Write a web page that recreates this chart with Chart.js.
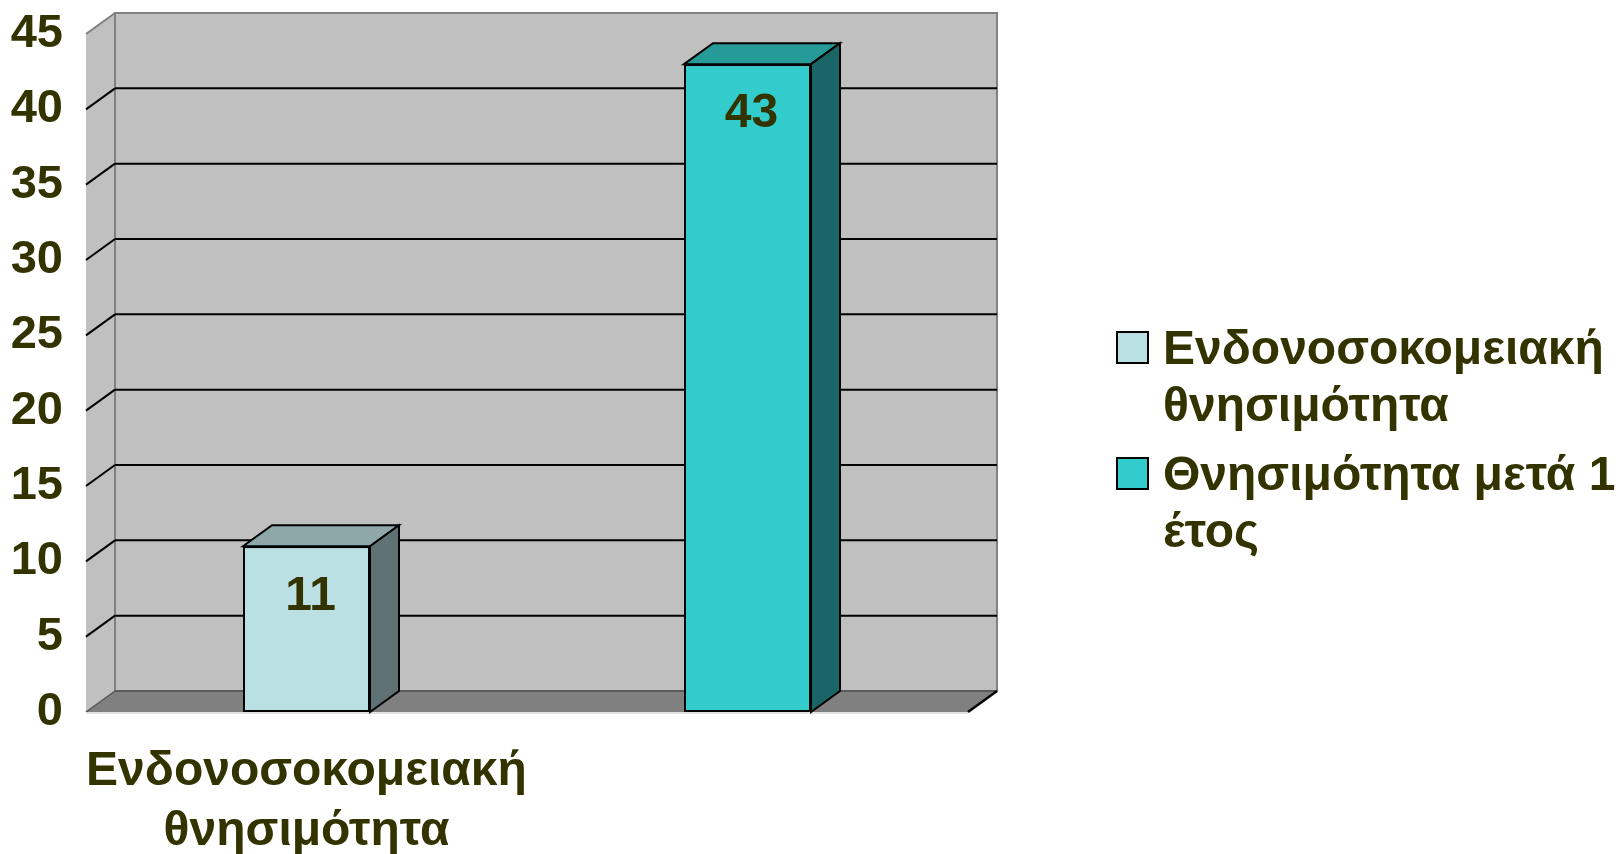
<!DOCTYPE html>
<html>
<head>
<meta charset="utf-8">
<script src="https://cdn.jsdelivr.net/npm/chart.js@4"></script>
<style>
  html, body { margin: 0; background: #fff; }
  canvas { display: block; }
</style>
</head>
<body>
<canvas id="mortalityChart" width="1621" height="854"></canvas>
<script>
// Θνησιμότητα (%)
const categories = ['Ενδονοσοκομειακή θνησιμότητα', 'Θνησιμότητα μετά 1 έτος'];
const values = [11, 43];
const yMin = 0, yMax = 45, yStep = 5;

// μπροστινή / πάνω / πλαϊνή όψη κάθε στήλης
const frontColors = ['#bbe0e3', '#33cccc'];
const topColors = ['#8ea8aa', '#269999'];
const sideColors = ['#5e7273', '#1a6666'];

const textColor = '#333300';
const fontFamily = '"Liberation Sans", Arial, sans-serif';
const labelFont = `bold 48px ${fontFamily}`;
const depthX = 29, depthY = -21;

const measureCtx = document.createElement('canvas').getContext('2d');
function wrapText(text, font, maxWidth) {
    measureCtx.font = font;
    const words = text.split(' ');
    const lines = [];
    let line = '';
    words.forEach(w => {
        const test = line ? line + ' ' + w : w;
        if (line && measureCtx.measureText(test).width > maxWidth) {
            lines.push(line);
            line = w;
        } else {
            line = test;
        }
    });
    if (line) lines.push(line);
    return lines;
}

function line(ctx, x1, y1, x2, y2, color, width) {
    ctx.beginPath();
    ctx.moveTo(x1, y1);
    ctx.lineTo(x2, y2);
    ctx.strokeStyle = color;
    ctx.lineWidth = width;
    ctx.stroke();
}

function poly(ctx, pts, fill, stroke) {
    ctx.beginPath();
    ctx.moveTo(pts[0][0], pts[0][1]);
    pts.slice(1).forEach(p => ctx.lineTo(p[0], p[1]));
    ctx.closePath();
    ctx.fillStyle = fill;
    ctx.fill();
    if (stroke) {
        ctx.strokeStyle = stroke;
        ctx.lineWidth = 2;
        ctx.stroke();
    }
}

// τοίχοι, δάπεδο και γραμμές πλέγματος σε στυλ 3Δ
const box3d = {
    id: 'box3d',
    beforeDatasetsDraw(chart) {
        const { ctx, chartArea: a, scales: { y } } = chart;
        const top = y.getPixelForValue(yMax), bottom = y.getPixelForValue(yMin);
        ctx.save();
        // πίσω τοίχος
        ctx.fillStyle = '#c0c0c0';
        ctx.fillRect(a.left + depthX, top + depthY, a.right - a.left, bottom - top);
        ctx.strokeStyle = '#808080';
        ctx.lineWidth = 2;
        ctx.strokeRect(a.left + depthX, top + depthY, a.right - a.left, bottom - top);
        // πλαϊνός τοίχος
        poly(ctx, [[a.left, top], [a.left + depthX, top + depthY],
                   [a.left + depthX, bottom + depthY], [a.left, bottom]], '#c0c0c0');
        line(ctx, a.left, top, a.left + depthX, top + depthY, '#808080', 2);
        line(ctx, a.left + depthX, top + depthY, a.left + depthX, bottom + depthY, '#808080', 2);
        // γραμμές πλέγματος
        for (let v = yMin + yStep; v < yMax; v += yStep) {
            const py = y.getPixelForValue(v);
            line(ctx, a.left, py, a.left + depthX, py + depthY, '#000', 2);
            line(ctx, a.left + depthX, py + depthY, a.right + depthX, py + depthY, '#000', 2);
        }
        // δάπεδο
        poly(ctx, [[a.left, bottom], [a.left + depthX, bottom + depthY],
                   [a.right + depthX, bottom + depthY], [a.right, bottom]], '#808080');
        line(ctx, a.left + depthX, bottom + depthY, a.right + depthX, bottom + depthY, '#5a5a5a', 2);
        line(ctx, a.left, bottom, a.left + depthX, bottom + depthY, '#555', 1.5);
        line(ctx, a.right, bottom, a.right + depthX, bottom + depthY, '#000', 2.5);
        line(ctx, a.left, bottom + 1, a.right, bottom + 1, '#e2e2e2', 2);
        ctx.restore();
    },
    afterDatasetsDraw(chart) {
        const { ctx } = chart;
        const meta = chart.getDatasetMeta(0);
        ctx.save();
        meta.data.forEach((bar, i) => {
            const { x, y, base, width } = bar.getProps(['x', 'y', 'base', 'width'], true);
            const l = x - width / 2, r = x + width / 2;
            poly(ctx, [[l, y], [l + depthX, y + depthY], [r + depthX, y + depthY], [r, y]], topColors[i], '#000');
            poly(ctx, [[r, y], [r + depthX, y + depthY], [r + depthX, base + depthY], [r, base]], sideColors[i], '#000');
            // ετικέτα τιμής μέσα στη στήλη
            ctx.fillStyle = textColor;
            ctx.font = `bold 48px ${fontFamily}`;
            ctx.textAlign = 'center';
            ctx.textBaseline = 'middle';
            ctx.fillText(values[i], x + 4, y + 50);
        });
        ctx.restore();
    },
    afterDraw(chart) {
        // υπόμνημα δεξιά
        const { ctx } = chart;
        const boxX = 1117, textX = 1163;
        let baseline = 364;
        ctx.save();
        ctx.font = labelFont;
        ctx.textAlign = 'left';
        ctx.textBaseline = 'alphabetic';
        categories.forEach((c, i) => {
            const lines = wrapText(c, labelFont, 470);
            ctx.fillStyle = frontColors[i];
            ctx.fillRect(boxX, baseline - 32, 31, 31);
            ctx.strokeStyle = '#000';
            ctx.lineWidth = 2;
            ctx.strokeRect(boxX, baseline - 32, 31, 31);
            ctx.fillStyle = textColor;
            lines.forEach((ln, k) => ctx.fillText(ln, textX, baseline + k * 57));
            baseline += (lines.length - 1) * 57 + 69;
        });
        ctx.restore();
    }
};

const ctx = document.getElementById('mortalityChart').getContext('2d');

const config = {
    type: 'bar',
    data: {
        labels: categories,
        datasets: [{
            data: values,
            backgroundColor: frontColors,
            borderColor: '#000',
            borderWidth: 2,
            borderSkipped: false,
            barPercentage: 0.288,
            categoryPercentage: 1
        }]
    },
    options: {
        responsive: false,
        animation: false,
        layout: { padding: { top: 34, right: 653, left: 0, bottom: 0 } },
        plugins: {
            legend: { display: false },
            tooltip: { enabled: false }
        },
        scales: {
            x: {
                grid: { display: false, drawTicks: false },
                border: { display: false },
                ticks: {
                    padding: 30,
                    color: textColor,
                    font: { family: fontFamily, size: 48, weight: 'bold', lineHeight: 1.25 },
                    maxRotation: 0,
                    autoSkip: false,
                    // μόνο η πρώτη ετικέτα χωράει κάτω από τον άξονα
                    callback: (v, i) => i === 0 ? wrapText(categories[i], labelFont, 470) : ''
                },
                afterFit: s => { s.height = 142; }
            },
            y: {
                min: yMin,
                max: yMax,
                grid: { display: false, drawTicks: false },
                border: { display: false },
                ticks: {
                    stepSize: yStep,
                    padding: 23,
                    color: textColor,
                    font: { family: fontFamily, size: 47, weight: 'bold' }
                },
                afterFit: s => {
                    s.width = 86;
                    s.paddingTop = 0;
                    s.paddingBottom = 0;
                }
            }
        }
    },
    plugins: [box3d]
};

const mortalityChart = new Chart(ctx, config);
</script>
</body>
</html>
